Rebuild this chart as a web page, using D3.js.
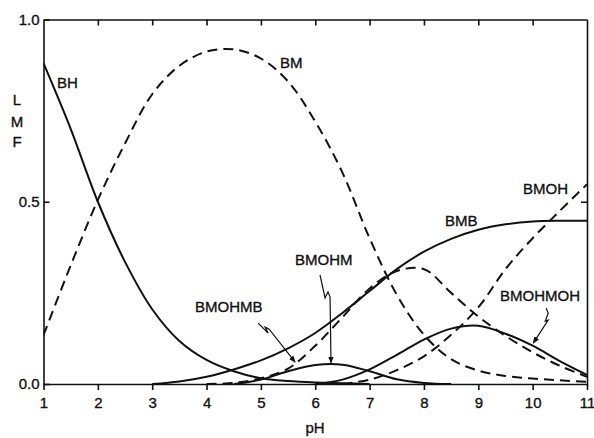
<!DOCTYPE html>
<html><head><meta charset="utf-8">
<script src="https://cdn.jsdelivr.net/npm/d3@7"></script>
<style>
html,body{margin:0;padding:0;background:#fff;}
text{font-family:"Liberation Sans",Arial,sans-serif;fill:#111;}
</style></head>
<body>
<svg id="chart" width="594" height="438"></svg>
<script>
// ---- data ----
const pH = [1,1.5,2,2.5,3,3.5,4,4.5,5,5.5,6,6.5,7,7.5,8,8.5,9,9.5,10,10.5,11];
const BH      = [0.88,0.70,0.50,0.335,0.205,0.118,0.066,0.035,0.016,0.008,0.004,0.002,0,null,null,null,null,null,null,null,null];
const BM      = [0.134,0.325,0.505,0.66,0.795,0.873,0.912,0.918,0.893,0.83,0.72,0.58,0.40,0.245,0.135,0.068,0.037,0.022,0.015,0.01,0.006];
const BMB     = [null,null,null,null,0,0.007,0.02,0.04,0.065,0.098,0.14,0.195,0.255,0.315,0.363,0.398,0.423,0.438,0.446,0.448,0.448];
const BMOHMB  = [null,null,null,null,null,null,0,0.003,0.016,0.042,0.105,0.183,0.262,0.31,0.315,0.25,0.185,0.132,0.087,0.05,0.02];
const BMOHM   = [null,null,null,null,null,null,null,0,0.012,0.035,0.052,0.053,0.035,0.013,0.003,0,null,null,null,null,null];
const BMOHMOH = [null,null,null,null,null,null,null,null,null,null,0,0.012,0.04,0.08,0.122,0.152,0.16,0.138,0.105,0.063,0.025];
const BMOH    = [null,null,null,null,null,null,null,null,null,null,null,0,0.012,0.038,0.076,0.135,0.21,0.315,0.40,0.475,0.548];
const xTicks = [1,2,3,4,5,6,7,8,9,10,11];
const yTicks = [0,0.5,1];
const yTickLabels = ["0.0","0.5","1.0"];

const series = [
  {name:"BH", values:BH, dashed:false},
  {name:"BM", values:BM, dashed:true},
  {name:"BMB", values:BMB, dashed:false},
  {name:"BMOHMB", values:BMOHMB, dashed:true},
  {name:"BMOHM", values:BMOHM, dashed:false},
  {name:"BMOHMOH", values:BMOHMOH, dashed:false},
  {name:"BMOH", values:BMOH, dashed:true}
];

// ---- layout ----
const svg = d3.select("#chart");
const x = d3.scaleLinear().domain([1,11]).range([43.5,587]);
const y = d3.scaleLinear().domain([0,1]).range([384,19.5]);
const ink = "#111";

const line = d3.line()
  .defined(d => d[1] !== null)
  .x(d => x(d[0])).y(d => y(d[1]))
  .curve(d3.curveCatmullRom.alpha(0.5));

// axes
function styleAxis(g){
  g.selectAll(".domain").attr("stroke",ink).attr("stroke-width",1.6);
  g.selectAll(".tick line").attr("stroke",ink).attr("stroke-width",1.6);
  g.selectAll("text").attr("font-size",15).attr("fill",ink)
   .attr("font-family",'"Liberation Sans",Arial,sans-serif')
   .attr("stroke",ink).attr("stroke-width",0.35);
}
svg.append("g").attr("transform",`translate(0,${y(0)})`)
  .call(d3.axisBottom(x).tickValues(xTicks).tickFormat(d3.format("d")).tickSize(6).tickSizeOuter(0).tickPadding(7))
  .call(styleAxis);
svg.append("g").attr("transform",`translate(0,${y(1)})`)
  .call(d3.axisTop(x).tickValues(xTicks.slice(1,-1)).tickFormat("").tickSize(-6).tickSizeOuter(0))
  .call(styleAxis);
svg.append("g").attr("transform",`translate(${x(1)},0)`)
  .call(d3.axisLeft(y).tickValues(yTicks).tickFormat((d,i)=>yTickLabels[i]).tickSize(-6).tickSizeOuter(0).tickPadding(4))
  .call(styleAxis);
svg.append("g").attr("transform",`translate(${x(11)},0)`)
  .call(d3.axisRight(y).tickValues([0.5]).tickFormat("").tickSize(-6).tickSizeOuter(0))
  .call(styleAxis);

// curves
const clip = svg.append("clipPath").attr("id","pc").append("rect")
  .attr("x",x(1)).attr("y",y(1)).attr("width",x(11)-x(1)).attr("height",y(0)-y(1)+1);
svg.append("g").attr("clip-path","url(#pc)").selectAll("path").data(series).join("path")
  .attr("d", s => line(pH.map((p,i)=>[p,s.values[i]])))
  .attr("fill","none").attr("stroke",ink).attr("stroke-width",2)
  .attr("stroke-dasharray", s => s.dashed ? "10,6" : null);

// labels
const labels = [
  {t:"BH", x:57, y:88},
  {t:"BM", x:280, y:68},
  {t:"BMOH", x:523, y:194},
  {t:"BMB", x:445, y:226},
  {t:"BMOHMOH", x:500, y:301},
  {t:"BMOHM", x:295, y:265},
  {t:"BMOHMB", x:195, y:312}
];
const tstyle = sel => sel.attr("font-size",15).attr("fill",ink).attr("stroke",ink).attr("stroke-width",0.35);
svg.append("g").selectAll("text").data(labels).join("text")
  .attr("x",d=>d.x).attr("y",d=>d.y).text(d=>d.t).call(tstyle);

// axis titles
svg.append("g").selectAll("text").data(["L","M","F"]).join("text")
  .attr("x",17).attr("y",(d,i)=>[105,127,147][i]).attr("text-anchor","middle").text(d=>d).call(tstyle);
svg.append("text").attr("x",315).attr("y",433).attr("text-anchor","middle").text("pH").call(tstyle);

// arrows (squiggle leaders)
const defs = svg.append("defs");
defs.append("marker").attr("id","ah").attr("viewBox","0 0 10 10").attr("refX",9).attr("refY",5)
  .attr("markerWidth",7).attr("markerHeight",7).attr("markerUnits","userSpaceOnUse").attr("orient","auto")
  .append("path").attr("d","M0,1 L10,5 L0,9 Z").attr("fill",ink);
const arrows = [
  // BMOHM -> hump peak
  {tip:[6.29,0.058], pts:[[-11,-88],[-6,-65],[-3,-71],[-1,-66],[0,0]]},
  // BMOHMB -> dashed curve
  {tip:[5.63,0.06], pts:[[-37,-39],[-27,-29],[-30,-35],[-26,-33],[0,0]]},
  // BMOHMOH -> solid hump
  {tip:[10.01,0.112], pts:[[13,-35],[15,-30],[12,-22],[15,-23],[0,0]]}
];
arrows.forEach(a=>{
  const tx=x(a.tip[0]), ty=y(a.tip[1]);
  const p=d3.path();
  a.pts.forEach((q,i)=>{ if(i===0) p.moveTo(tx+q[0],ty+q[1]); else p.lineTo(tx+q[0],ty+q[1]); });
  svg.append("path").attr("d",p.toString()).attr("fill","none").attr("stroke",ink)
    .attr("stroke-width",1.2).attr("marker-end","url(#ah)");
});
</script>
</body></html>
